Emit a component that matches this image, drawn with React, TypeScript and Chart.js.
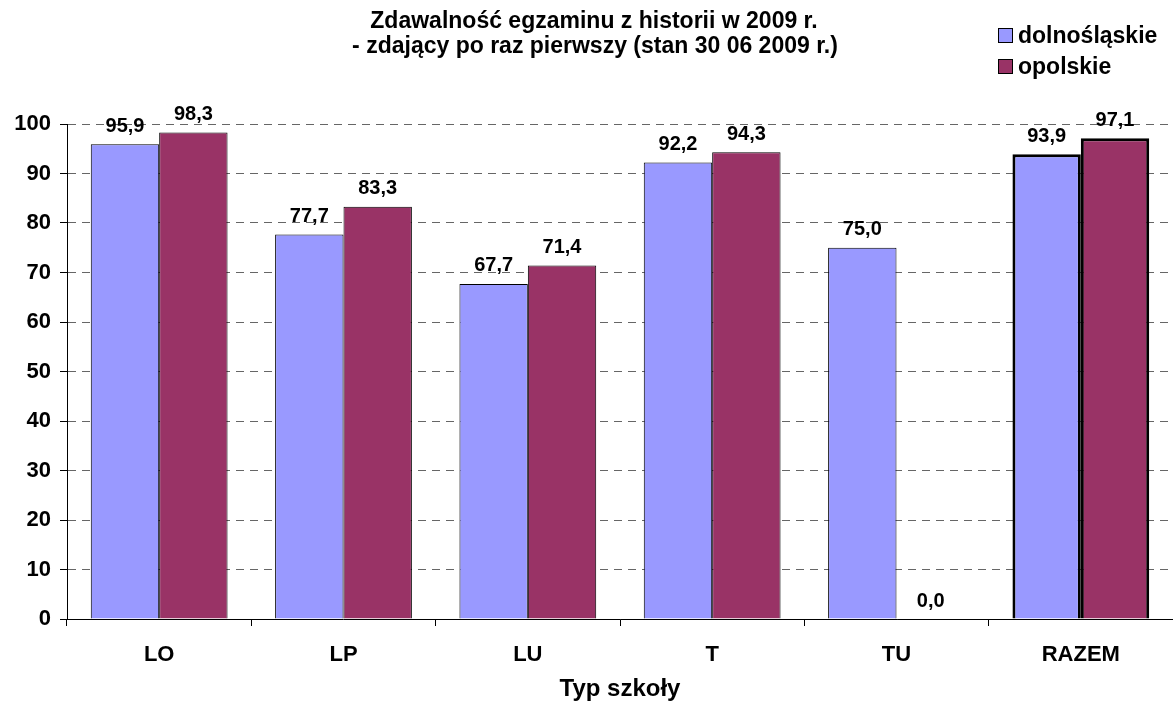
import React, { useEffect, useRef } from "react";
import { Chart, registerables } from "chart.js";

Chart.register(...registerables);

const categories = ["LO", "LP", "LU", "T", "TU", "RAZEM"];
const dolnoslaskie = [95.9, 77.7, 67.7, 92.2, 75.0, 93.9];
const opolskie = [98.3, 83.3, 71.4, 94.3, 0.0, 97.1];
const seriesNames = ["dolnośląskie", "opolskie"];
const seriesColors = ["#9999FF", "#993366"];
const titleLines = [
  "Zdawalność egzaminu z historii w 2009 r.",
  "- zdający po raz pierwszy (stan 30 06 2009 r.)",
];
const xTitle = "Typ szkoły";
const yTicks = [0, 10, 20, 30, 40, 50, 60, 70, 80, 90, 100];

const FONT = "'Liberation Sans', Arial, sans-serif";

const decorPlugin = {
  id: "decor",
  afterDatasetsDraw(chart: any) {
    const ctx = chart.ctx;
    ctx.save();
    // data labels
    ctx.font = `bold 20px ${FONT}`;
    ctx.fillStyle = "#000";
    ctx.textAlign = "center";
    ctx.textBaseline = "middle";
    chart.data.datasets.forEach((ds: any, di: number) => {
      const meta = chart.getDatasetMeta(di);
      meta.data.forEach((bar: any, i: number) => {
        const v = ds.data[i] as number;
        ctx.fillText(v.toFixed(1).replace(".", ","), bar.x, bar.y - 18);
      });
    });
    // title
    ctx.font = `bold 23px ${FONT}`;
    ctx.fillText(titleLines[0], 594, 22);
    ctx.fillText(titleLines[1], 595, 47);
    // legend
    ctx.textAlign = "left";
    ctx.font = `bold 23px ${FONT}`;
    seriesNames.forEach((name, i) => {
      const cy = 36 + i * 31;
      ctx.fillStyle = seriesColors[i];
      ctx.fillRect(998.5, cy - 7.5, 14, 14);
      ctx.strokeStyle = "#000";
      ctx.lineWidth = 1;
      ctx.strokeRect(998.5, cy - 7.5, 14, 14);
      ctx.fillStyle = "#000";
      ctx.fillText(name, 1018, cy + 1);
    });
    ctx.restore();
  },
};

export default function App() {
  const ref = useRef<HTMLCanvasElement>(null);
  useEffect(() => {
    if (!ref.current) return;
    const chart = new Chart(ref.current, {
      type: "bar",
      data: {
        labels: categories,
        datasets: [
          {
            label: seriesNames[0],
            data: dolnoslaskie,
            backgroundColor: seriesColors[0],
            borderColor: "#000",
            borderWidth: [1, 1, 1, 1, 1, 3],
            categoryPercentage: 0.742,
            barPercentage: 1,
          },
          {
            label: seriesNames[1],
            data: opolskie,
            backgroundColor: seriesColors[1],
            borderColor: "#000",
            borderWidth: [1, 1, 1, 1, 1, 3],
            categoryPercentage: 0.742,
            barPercentage: 1,
          },
        ],
      },
      options: {
        responsive: false,
        animation: false,
        layout: { padding: { top: 124, left: 0, right: 0, bottom: 0 } },
        plugins: {
          legend: { display: false },
          title: { display: false },
          tooltip: { enabled: false },
        },
        scales: {
          x: {
            afterFit(scale: any) {
              scale.height = 87;
            },
            grid: {
              display: true,
              drawOnChartArea: false,
              drawTicks: true,
              tickLength: 7,
              tickColor: "#000",
              offset: true,
            },
            border: { display: true, color: "#000", width: 1 },
            ticks: {
              color: "#000",
              padding: 16,
              font: { family: FONT, size: 22, weight: "bold" },
            },
            title: {
              display: true,
              text: xTitle,
              color: "#000",
              padding: { top: 0, bottom: 2 },
              font: { family: FONT, size: 24, weight: "bold" },
            },
          },
          y: {
            min: 0,
            max: 100,
            afterFit(scale: any) {
              scale.width = 67;
            },
            afterBuildTicks(scale: any) {
              scale.ticks = yTicks.map((v) => ({ value: v }));
            },
            grid: {
              color: "#666",
              lineWidth: 1,
              drawTicks: true,
              tickLength: 7,
              tickColor: "#000",
            },
            border: { display: true, color: "#000", width: 1, dash: [8, 6] },
            ticks: {
              color: "#000",
              padding: 9,
              font: { family: FONT, size: 22, weight: "bold" },
            },
          },
        },
      },
      plugins: [decorPlugin],
    } as any);
    return () => chart.destroy();
  }, []);
  return (
    <div style={{ position: "fixed", left: 0, top: 0, width: 1173, height: 706, background: "#fff" }}>
      <canvas ref={ref} width={1173} height={706} />
    </div>
  );
}
